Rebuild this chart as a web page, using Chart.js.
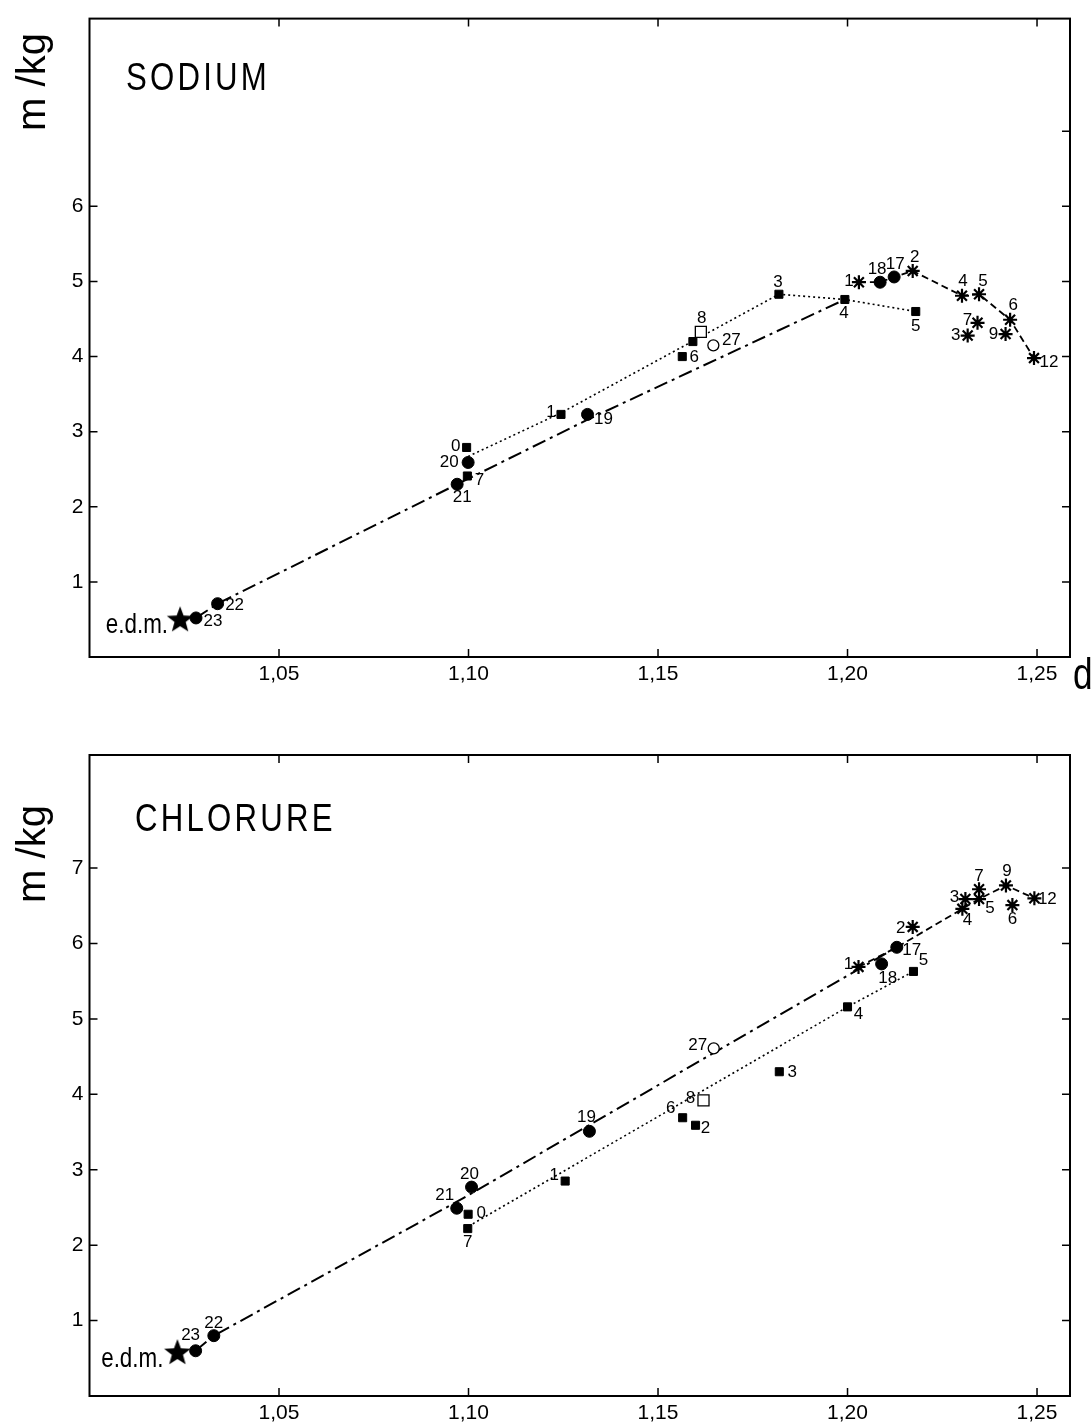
<!DOCTYPE html>
<html>
<head>
<meta charset="utf-8">
<script src="https://cdn.jsdelivr.net/npm/chart.js@4.4.1/dist/chart.umd.min.js"></script>
<style>
html, body { margin: 0; padding: 0; background: #fff; }
.panel { position: absolute; left: 0; width: 1092px; height: 714px; }
#top { top: 0; }
#bottom { top: 714px; }
</style>
</head>
<body>
<div class="panel" id="top"><canvas id="naChart"></canvas></div>
<div class="panel" id="bottom"><canvas id="clChart"></canvas></div>
<script>
// common x axis (density d)
var xTicks = [1.05, 1.10, 1.15, 1.20, 1.25];

// ---- SODIUM ----
var naYTicks = [1, 2, 3, 4, 5, 6];
var naStarD = [1.0239];
var naStarM = [0.49];
var naCircleLabels = ['23', '22', '21', '20', '19', '18', '17'];
var naCircleD = [1.0281, 1.0338, 1.0970, 1.0999, 1.1314, 1.2086, 1.2123];
var naCircleM = [0.52, 0.71, 2.30, 2.59, 3.23, 4.99, 5.06];
var naSquareLabels = ['0', '7', '1', '6', '', '3', '4', '5'];
var naSquareD = [1.0995, 1.0997, 1.1244, 1.1564, 1.1592, 1.1819, 1.1993, 1.2180];
var naSquareM = [2.79, 2.41, 3.23, 4.00, 4.20, 4.83, 4.76, 4.60];
var naOpenSquareLabels = ['8'];
var naOpenSquareD = [1.1613];
var naOpenSquareM = [4.33];
var naOpenCircleLabels = ['27'];
var naOpenCircleD = [1.1646];
var naOpenCircleM = [4.15];
var naAsterLabels = ['1', '2', '4', '5', '6', '12', '7', '3', '9'];
var naAsterD = [1.2030, 1.2172, 1.2302, 1.2347, 1.2429, 1.2492, 1.2343, 1.2317, 1.2417];
var naAsterM = [4.99, 5.14, 4.81, 4.83, 4.49, 3.98, 4.45, 4.28, 4.30];
// curves
var naDashDotD = [1.0281, 1.0338, 1.0970, 1.1314, 1.1993];
var naDashDotM = [0.52, 0.71, 2.30, 3.16, 4.76];
var naDottedD = [1.0999, 1.1244, 1.1819, 1.1993, 1.2180];
var naDottedM = [2.67, 3.25, 4.83, 4.76, 4.60];
var naDashedD = [1.2030, 1.2086, 1.2123, 1.2172, 1.2302, 1.2347, 1.2429, 1.2492];
var naDashedM = [4.99, 4.99, 5.06, 5.14, 4.81, 4.83, 4.49, 3.98];

// ---- CHLORURE ----
var clYTicks = [1, 2, 3, 4, 5, 6, 7];
var clStarD = [1.0232];
var clStarM = [0.57];
var clCircleLabels = ['23', '22', '21', '20', '19', '18', '17'];
var clCircleD = [1.0280, 1.0328, 1.0969, 1.1008, 1.1319, 1.2090, 1.2130];
var clCircleM = [0.60, 0.80, 2.49, 2.77, 3.51, 5.73, 5.95];
var clSquareLabels = ['0', '7', '1', '6', '2', '3', '4', '5'];
var clSquareD = [1.0999, 1.0998, 1.1255, 1.1565, 1.1599, 1.1820, 1.2000, 1.2174];
var clSquareM = [2.41, 2.22, 2.85, 3.69, 3.59, 4.30, 5.16, 5.63];
var clOpenSquareLabels = ['8'];
var clOpenSquareD = [1.1620];
var clOpenSquareM = [3.92];
var clOpenCircleLabels = ['27'];
var clOpenCircleD = [1.1647];
var clOpenCircleM = [4.61];
var clAsterLabels = ['1', '2', '4', '3', '5', '7', '9', '6', '12'];
var clAsterD = [1.2029, 1.2172, 1.2303, 1.2311, 1.2347, 1.2347, 1.2418, 1.2435, 1.2493];
var clAsterM = [5.69, 6.22, 6.46, 6.59, 6.59, 6.72, 6.77, 6.51, 6.60];
// curves
var clDashDotD = [1.0280, 1.0328, 1.0985, 1.1647, 1.2130];
var clDashDotM = [0.60, 0.80, 2.62, 4.55, 5.95];
var clDottedD = [1.1000, 1.2000, 1.2174];
var clDottedM = [2.25, 5.16, 5.63];
var clDashedD = [1.2029, 1.2130, 1.2303, 1.2347, 1.2418, 1.2493];
var clDashedM = [5.69, 5.95, 6.46, 6.59, 6.77, 6.60];

// label placement (pixel offsets from each mark)
var naCircleOff = [[17, 3], [17, 2], [5, 13], [-19, 0], [16, 5], [-3, -13], [1, -13]];
var naSquareOff = [[-11, -1], [12, 4], [-10, -2], [12, 1], [0, 0], [-1, -12], [-1, 14], [0, 15]];
var naOpenSquareOff = [[1, -13]];
var naOpenCircleOff = [[18, -5]];
var naAsterOff = [[-10, -1], [2, -14], [1, -14], [4, -13], [3, -14], [15, 4], [-10, -2], [-12, 0], [-12, 0]];
var clCircleOff = [[-5, -15], [0, -12], [-12, -13], [-2, -13], [-3, -14], [6, 14], [15, 3]];
var clSquareOff = [[13, -1], [0, 14], [-11, -6], [-12, -9], [10, 3], [13, 1], [11, 7], [10, -11]];
var clOpenSquareOff = [[-13, -2]];
var clOpenCircleOff = [[-16, -3]];
var clAsterOff = [[-10, -3], [-12, 1], [5, 11], [-11, -2], [11, 9], [0, -13], [1, -14], [0, 14], [13, 1]];

var NUM_FONT = '"Liberation Sans", Arial, sans-serif';

function pts(d, m) {
    return d.map(function (x, i) { return { x: x, y: m[i] }; });
}

function starImage(r) {
    var c = document.createElement('canvas');
    c.width = c.height = r * 2 + 2;
    var g = c.getContext('2d');
    g.beginPath();
    for (var i = 0; i < 10; i++) {
        var rad = i % 2 ? r * 0.42 : r;
        var a = -Math.PI / 2 + i * Math.PI / 5;
        g.lineTo(r + 1 + rad * Math.cos(a), r + 1 + rad * Math.sin(a));
    }
    g.closePath();
    g.fillStyle = '#000';
    g.fill();
    return c;
}
var STAR = starImage(14);

// draws text squeezed horizontally (no condensed font installed)
function narrowText(ctx, text, x, y, size, align, squeeze, spacing) {
    ctx.save();
    ctx.font = size + 'px ' + NUM_FONT;
    ctx.letterSpacing = (spacing || 0) + 'px';
    ctx.textAlign = 'left';
    ctx.textBaseline = 'alphabetic';
    var w = ctx.measureText(text).width * squeeze;
    var x0 = align === 'right' ? x - w : x;
    ctx.translate(x0, y);
    ctx.scale(squeeze, 1);
    ctx.fillText(text, 0, 0);
    ctx.restore();
}

function marks(style, d, m, labels, offsets, extra) {
    var ds = {
        data: pts(d, m),
        showLine: false,
        pointStyle: style,
        pointRadius: 6,
        backgroundColor: '#000',
        borderColor: '#000',
        borderWidth: 1,
        pointLabels: labels,
        labelOffsets: offsets,
        order: 0
    };
    for (var k in extra) ds[k] = extra[k];
    return ds;
}

function curve(d, m, dash, width) {
    return {
        data: pts(d, m),
        showLine: true,
        pointRadius: 0,
        borderColor: '#000',
        borderWidth: width,
        borderDash: dash,
        fill: false,
        tension: 0,
        order: 10
    };
}

// frame with inward ticks, titles and point labels
var decor = {
    id: 'decor',
    afterDatasetsDraw: function (chart, args, o) {
        var ctx = chart.ctx, a = chart.chartArea;
        var xs = chart.scales.x, ys = chart.scales.y;
        ctx.save();
        ctx.strokeStyle = '#000';
        ctx.lineWidth = 2;
        ctx.strokeRect(a.left, a.top, a.right - a.left, a.bottom - a.top);
        ctx.lineWidth = 1.5;
        ctx.beginPath();
        xTicks.forEach(function (v) {
            var x = xs.getPixelForValue(v);
            ctx.moveTo(x, a.bottom); ctx.lineTo(x, a.bottom - 8);
            ctx.moveTo(x, a.top); ctx.lineTo(x, a.top + 8);
        });
        o.yTicks.forEach(function (v) {
            var y = ys.getPixelForValue(v);
            ctx.moveTo(a.left, y); ctx.lineTo(a.left + 8, y);
        });
        o.yRight.forEach(function (v) {
            var y = ys.getPixelForValue(v);
            ctx.moveTo(a.right, y); ctx.lineTo(a.right - 8, y);
        });
        ctx.stroke();

        ctx.fillStyle = '#000';
        chart.data.datasets.forEach(function (ds, i) {
            if (!ds.pointLabels) return;
            var meta = chart.getDatasetMeta(i);
            meta.data.forEach(function (p, j) {
                var t = ds.pointLabels[j];
                if (!t) return;
                var off = ds.labelOffsets[j];
                if (ds.narrowLabel) {
                    narrowText(ctx, t, p.x + off[0], p.y + off[1], 28, 'right', 0.8, 0);
                    return;
                }
                ctx.font = '17px ' + NUM_FONT;
                ctx.textAlign = 'center';
                ctx.textBaseline = 'middle';
                ctx.fillText(t, p.x + off[0], p.y + off[1]);
            });
        });

        // panel name
        narrowText(ctx, o.title, o.titleX, o.titleY, 39, 'left', 0.8, 4);

        // y title
        ctx.save();
        ctx.translate(34, o.yTitleY);
        ctx.rotate(-Math.PI / 2);
        ctx.font = '40px ' + NUM_FONT;
        ctx.textAlign = 'center';
        ctx.textBaseline = 'middle';
        ctx.fillText('m /kg', 0, 0);
        ctx.restore();

        if (o.xTitle) {
            narrowText(ctx, o.xTitle, a.right + 3, a.bottom + 32, 44, 'left', 0.8, 0);
        }
        ctx.restore();
    }
};

function makePanel(id, datasets, yTicks, deco, padTop, xHeight) {
    return new Chart(document.getElementById(id), {
        type: 'scatter',
        data: { datasets: datasets },
        plugins: [decor],
        options: {
            responsive: true,
            maintainAspectRatio: false,
            animation: false,
            events: [],
            layout: { padding: { top: padTop, right: 22, left: 0, bottom: 0 } },
            plugins: {
                legend: { display: false },
                tooltip: { enabled: false },
                decor: deco
            },
            scales: {
                x: {
                    type: 'linear',
                    min: 1.0,
                    max: 1.2587,
                    afterBuildTicks: function (s) { s.ticks = xTicks.map(function (v) { return { value: v }; }); },
                    afterFit: function (s) { s.height = xHeight; },
                    grid: { display: false, drawTicks: false },
                    border: { display: false },
                    ticks: {
                        autoSkip: false,
                        maxRotation: 0,
                        padding: 5,
                        color: '#000',
                        font: { family: NUM_FONT, size: 21 },
                        callback: function (v) { return v.toFixed(2).replace('.', ','); }
                    }
                },
                y: {
                    min: 0,
                    max: 8.5,
                    afterBuildTicks: function (s) { s.ticks = yTicks.map(function (v) { return { value: v }; }); },
                    afterFit: function (s) { s.width = 89.5; },
                    grid: { display: false, drawTicks: false },
                    border: { display: false },
                    ticks: {
                        padding: 6,
                        color: '#000',
                        font: { family: NUM_FONT, size: 21 }
                    }
                }
            }
        }
    });
}

var naSets = [
    marks(STAR, naStarD, naStarM, ['e.d.m.'], [[-12, 13]], { narrowLabel: true }),
    marks('circle', naCircleD, naCircleM, naCircleLabels, naCircleOff, { pointRadius: 6 }),
    marks('rect', naSquareD, naSquareM, naSquareLabels, naSquareOff, { pointRadius: 5.7 }),
    marks('rect', naOpenSquareD, naOpenSquareM, naOpenSquareLabels, naOpenSquareOff,
        { pointRadius: 7.8, backgroundColor: '#fff', borderWidth: 1.3 }),
    marks('circle', naOpenCircleD, naOpenCircleM, naOpenCircleLabels, naOpenCircleOff,
        { pointRadius: 5.5, backgroundColor: '#fff', borderWidth: 1.3 }),
    marks('star', naAsterD, naAsterM, naAsterLabels, naAsterOff, { pointRadius: 7, borderWidth: 2.2 }),
    curve(naDashDotD, naDashDotM, [14, 5, 3, 5], 2),
    curve(naDottedD, naDottedM, [2, 3], 1.6),
    curve(naDashedD, naDashedM, [7, 4], 1.8)
];

var clSets = [
    marks(STAR, clStarD, clStarM, ['e.d.m.'], [[-14, 14]], { narrowLabel: true }),
    marks('circle', clCircleD, clCircleM, clCircleLabels, clCircleOff, { pointRadius: 6 }),
    marks('rect', clSquareD, clSquareM, clSquareLabels, clSquareOff, { pointRadius: 5.7 }),
    marks('rect', clOpenSquareD, clOpenSquareM, clOpenSquareLabels, clOpenSquareOff,
        { pointRadius: 7.8, backgroundColor: '#fff', borderWidth: 1.3 }),
    marks('circle', clOpenCircleD, clOpenCircleM, clOpenCircleLabels, clOpenCircleOff,
        { pointRadius: 5.5, backgroundColor: '#fff', borderWidth: 1.3 }),
    marks('star', clAsterD, clAsterM, clAsterLabels, clAsterOff, { pointRadius: 7, borderWidth: 2.2 }),
    curve(clDashDotD, clDashDotM, [14, 5, 3, 5], 2),
    curve(clDottedD, clDottedM, [2, 3], 1.6),
    curve(clDashedD, clDashedM, [7, 4], 1.8)
];

makePanel('naChart', naSets, naYTicks,
    { title: 'SODIUM', titleX: 126, titleY: 90, yTitleY: 82, xTitle: 'd',
      yTicks: naYTicks, yRight: [1, 2, 3, 4, 5, 6, 7] },
    14, 57);

makePanel('clChart', clSets, clYTicks,
    { title: 'CHLORURE', titleX: 135, titleY: 117, yTitleY: 140, xTitle: '',
      yTicks: clYTicks, yRight: [1, 2, 3, 4, 5, 6, 7] },
    41, 32);
</script>
</body>
</html>
